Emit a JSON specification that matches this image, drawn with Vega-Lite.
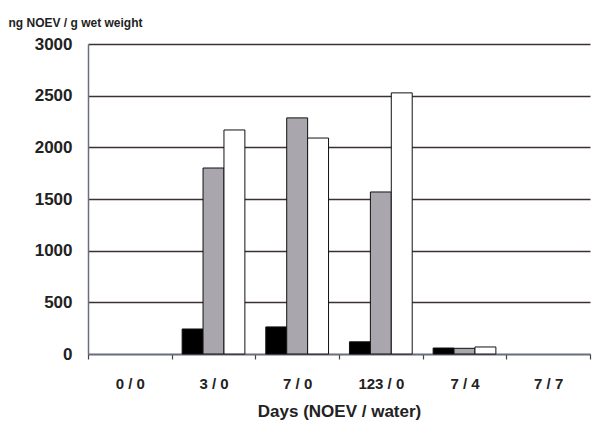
{
  "$schema": "https://vega.github.io/schema/vega-lite/v6.json",
  "width": 502,
  "height": 310,
  "autosize": "none",
  "padding": {"left": 88, "top": 44, "right": 3, "bottom": 73},
  "background": "white",
  "config": {"font": "Liberation Sans", "view": {"stroke": null}},
  "data": {"values": [
    {"days": "0 / 0", "series": "S1", "value": null},
    {"days": "0 / 0", "series": "S2", "value": null},
    {"days": "0 / 0", "series": "S3", "value": null},
    {"days": "3 / 0", "series": "S1", "value": 242},
    {"days": "3 / 0", "series": "S2", "value": 1800},
    {"days": "3 / 0", "series": "S3", "value": 2168},
    {"days": "7 / 0", "series": "S1", "value": 262},
    {"days": "7 / 0", "series": "S2", "value": 2285},
    {"days": "7 / 0", "series": "S3", "value": 2090},
    {"days": "123 / 0", "series": "S1", "value": 118},
    {"days": "123 / 0", "series": "S2", "value": 1568},
    {"days": "123 / 0", "series": "S3", "value": 2527},
    {"days": "7 / 4", "series": "S1", "value": 58},
    {"days": "7 / 4", "series": "S2", "value": 55},
    {"days": "7 / 4", "series": "S3", "value": 68},
    {"days": "7 / 7", "series": "S1", "value": null},
    {"days": "7 / 7", "series": "S2", "value": null},
    {"days": "7 / 7", "series": "S3", "value": null}
  ]},
  "mark": {"type": "bar", "stroke": "#111111", "strokeWidth": 1},
  "encoding": {
    "x": {
      "field": "days", "type": "nominal",
      "sort": ["0 / 0", "3 / 0", "7 / 0", "123 / 0", "7 / 4", "7 / 7"],
      "scale": {"domain": ["0 / 0", "3 / 0", "7 / 0", "123 / 0", "7 / 4", "7 / 7"], "paddingInner": 0, "paddingOuter": 0},
      "axis": {
        "title": "Days (NOEV / water)",
        "titleFontSize": 17, "titleFontWeight": "bold", "titleColor": "#222", "titlePadding": 12,
        "labelAngle": 0, "labelFontSize": 15, "labelFontWeight": "bold", "labelColor": "#222", "labelPadding": 17,
        "tickBand": "extent", "tickSize": 5, "tickWidth": 1.2, "tickColor": "#444",
        "domainColor": "#6a6f80", "domainWidth": 1.5, "grid": false
      }
    },
    "xOffset": {"field": "series", "type": "nominal", "scale": {"paddingInner": 0, "paddingOuter": 0.5}},
    "y": {
      "field": "value", "type": "quantitative",
      "scale": {"domain": [0, 3000], "nice": false},
      "axis": {
        "values": [0, 500, 1000, 1500, 2000, 2500, 3000], "format": "d",
        "title": "ng NOEV / g wet weight", "titleAngle": 0, "titleAlign": "left", "titleBaseline": "middle",
        "titleX": -80, "titleY": -22, "titleFontSize": 12, "titleFontWeight": "bold", "titleColor": "#222",
        "labelFontSize": 17, "labelFontWeight": "bold", "labelColor": "#222", "labelPadding": 16,
        "ticks": false, "domainColor": "#6a6f80", "domainWidth": 1.5,
        "grid": true, "gridColor": "#3a3035", "gridWidth": 1.3
      }
    },
    "fill": {
      "field": "series", "type": "nominal",
      "scale": {"domain": ["S1", "S2", "S3"], "range": ["#000000", "#a9a6ad", "#ffffff"]},
      "legend": null
    }
  }
}
